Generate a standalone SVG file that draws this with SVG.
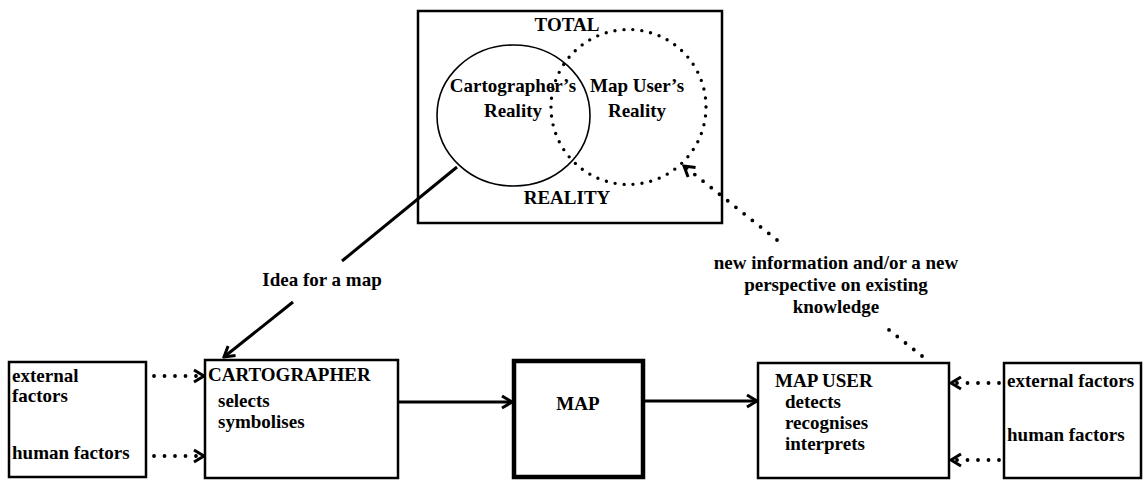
<svg xmlns="http://www.w3.org/2000/svg" width="1144" height="480" viewBox="0 0 1144 480">
<style>
  text { font-family: "Liberation Serif", "Times New Roman", serif; font-weight: bold; font-size: 19px; fill: #000; }
  .box { fill: #fff; stroke: #000; stroke-width: 2.5; }
  .thick { fill: #fff; stroke: #000; stroke-width: 4.5; }
  .solid { fill: none; stroke: #000; stroke-width: 3; }
  .dotted { fill: none; stroke: #000; stroke-width: 3.8; stroke-linecap: round; stroke-dasharray: 0 10.5; }
  .mid { text-anchor: middle; }
</style>
<defs>
  <marker id="arr" markerUnits="userSpaceOnUse" markerWidth="16" markerHeight="16" viewBox="0 0 16 16" refX="14" refY="8" orient="auto">
    <path d="M4,2 L14,8 L4,14" fill="none" stroke="#000" stroke-width="3" stroke-dasharray="none"/>
  </marker>
</defs>
<rect width="1144" height="480" fill="#fff"/>

<g id="reality">
  <rect x="418" y="11" width="304" height="212" class="box" stroke-width="3"/>
  <ellipse cx="513.5" cy="115.5" rx="76.5" ry="70.5" fill="none" stroke="#000" stroke-width="1.6"/>
  <circle cx="628.5" cy="107" r="77.5" fill="none" stroke="#000" stroke-width="3.4" stroke-linecap="round" stroke-dasharray="0 9"/>
  <text x="567" y="31" class="mid" font-size="18">TOTAL</text>
  <text x="567" y="204" class="mid">REALITY</text>
  <text x="513" y="92" class="mid" font-size="18">Cartographer’s</text>
  <text x="513" y="117" class="mid" font-size="18">Reality</text>
  <text x="637" y="92" class="mid" font-size="18">Map User’s</text>
  <text x="637" y="117" class="mid" font-size="18">Reality</text>
</g>

<g id="left-factors">
  <rect x="9" y="362" width="137" height="115" class="box"/>
  <text x="12" y="382">external</text>
  <text x="12" y="402">factors</text>
  <text x="12" y="459">human factors</text>
</g>

<g id="cartographer">
  <rect x="205" y="360" width="193" height="118" class="box"/>
  <text x="208" y="381">CARTOGRAPHER</text>
  <text x="218" y="407">selects</text>
  <text x="218" y="428">symbolises</text>
</g>

<g id="map">
  <rect x="514" y="361" width="129" height="116" class="thick"/>
  <text x="578" y="410" class="mid">MAP</text>
</g>

<g id="map-user">
  <rect x="758" y="363" width="191" height="115" class="box"/>
  <text x="775" y="387">MAP USER</text>
  <text x="785" y="408">detects</text>
  <text x="785" y="429">recognises</text>
  <text x="785" y="450">interprets</text>
</g>

<g id="right-factors">
  <rect x="1004" y="363" width="137" height="115" class="box"/>
  <text x="1007" y="387">external factors</text>
  <text x="1007" y="441">human factors</text>
</g>

<g id="connectors">
  <line x1="457" y1="167" x2="342" y2="261" class="solid"/>
  <line x1="293" y1="302" x2="224" y2="357" class="solid" marker-end="url(#arr)"/>
  <text x="322" y="286" class="mid">Idea for a map</text>

  <line x1="398" y1="402" x2="512" y2="402" class="solid" marker-end="url(#arr)"/>
  <line x1="643" y1="401" x2="757" y2="401" class="solid" marker-end="url(#arr)"/>

  <line x1="154" y1="376" x2="204" y2="376" class="dotted" marker-end="url(#arr)"/>
  <line x1="154" y1="456" x2="204" y2="456" class="dotted" marker-end="url(#arr)"/>
  <line x1="999" y1="383" x2="951" y2="383" class="dotted" marker-end="url(#arr)"/>
  <line x1="999" y1="460" x2="951" y2="460" class="dotted" marker-end="url(#arr)"/>

  <line x1="922" y1="356" x2="884" y2="326" class="dotted"/>
  <line x1="777" y1="240" x2="684" y2="166" class="dotted" marker-end="url(#arr)"/>
  <text x="836" y="269" class="mid">new information and/or a new</text>
  <text x="836" y="291" class="mid">perspective on existing</text>
  <text x="836" y="313" class="mid">knowledge</text>
</g>
</svg>
